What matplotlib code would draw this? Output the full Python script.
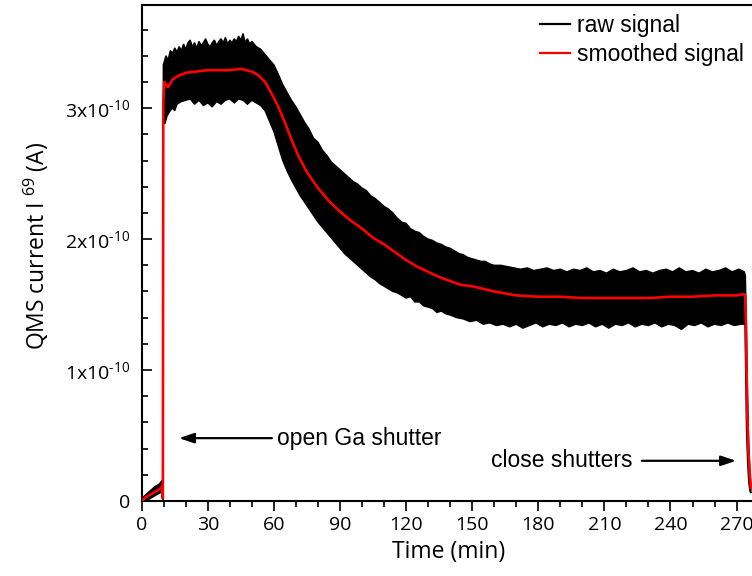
import matplotlib
matplotlib.use('Agg')
import matplotlib.pyplot as plt
from matplotlib.lines import Line2D
from matplotlib.ticker import MultipleLocator, FuncFormatter

# ---------------- data (current in units of 1e-10 A, time in min) ----------------
smooth_t = [0.7, 2, 4, 6, 8, 9.3, 9.6, 9.8, 10.3, 11, 12, 14, 17, 20, 25, 30, 35, 40,
            45, 50, 53, 56, 59, 62, 65, 68, 71, 75, 80, 85, 90, 95, 100, 105, 110,
            115, 120, 125, 130, 135, 140, 145, 150, 155, 160, 170, 180, 190, 200,
            210, 220, 230, 240, 250, 260, 270, 273.5, 273.9, 274.3, 274.8, 275.3,
            276.0, 276.5]
smooth_v = [0.01, 0.03, 0.05, 0.07, 0.09, 0.11, 0.02, 3.05, 3.20, 3.18, 3.16, 3.22,
            3.25, 3.27, 3.28, 3.29, 3.29, 3.29, 3.30, 3.28, 3.25, 3.20, 3.11, 3.01,
            2.89, 2.76, 2.64, 2.51, 2.39, 2.29, 2.21, 2.14, 2.08, 2.01, 1.96, 1.90,
            1.84, 1.79, 1.75, 1.71, 1.68, 1.65, 1.64, 1.62, 1.60, 1.57, 1.56, 1.56,
            1.55, 1.55, 1.55, 1.55, 1.56, 1.56, 1.57, 1.57, 1.58, 1.57, 1.30, 0.70,
            0.40, 0.20, 0.10]

# raw signal: upper and lower envelope of the noisy trace
raw_upper_t = [0.7, 2, 4, 6, 8, 9.4, 9.75, 9.8, 11, 12, 13, 14, 15, 16, 17, 18, 19,
               20, 21, 22, 23, 24, 25, 26, 27, 28, 29, 30, 31, 32, 33, 34, 35, 36, 37,
               38, 39, 40, 41, 42, 43, 44, 45, 46, 47, 48, 49, 50, 52, 54, 56, 58, 60,
               62, 64, 66, 68, 70, 72, 74, 76, 78, 80, 82, 84, 86, 88, 90, 92, 94, 96,
               98, 100, 102, 104, 106, 108, 110, 112, 114, 116, 118, 120, 122, 124,
               126, 128, 130, 132, 134, 136, 138, 140, 142, 144, 146, 148, 150, 152,
               154, 156, 158, 160, 163, 166, 169, 172, 175, 178, 181, 184, 187, 190,
               193, 196, 199, 202, 205, 208, 211, 214, 217, 220, 223, 226, 229, 232,
               235, 238, 241, 244, 247, 250, 253, 256, 259, 262, 265, 268, 271, 273.5,
               274.0, 274.5, 275.0, 275.5, 276.0, 276.5]
raw_upper_v = [0.03, 0.05, 0.08, 0.11, 0.13, 0.16, 0.16, 3.33, 3.40, 3.37, 3.44, 3.42,
               3.46, 3.43, 3.47, 3.44, 3.49, 3.45, 3.50, 3.52, 3.47, 3.50, 3.46, 3.51,
               3.48, 3.50, 3.53, 3.49, 3.47, 3.50, 3.52, 3.48, 3.51, 3.53, 3.50, 3.54,
               3.49, 3.52, 3.50, 3.53, 3.51, 3.55, 3.52, 3.57, 3.50, 3.53, 3.49, 3.51,
               3.47, 3.45, 3.41, 3.37, 3.33, 3.26, 3.18, 3.12, 3.06, 3.01, 2.95, 2.89,
               2.84, 2.77, 2.74, 2.68, 2.64, 2.59, 2.56, 2.53, 2.50, 2.47, 2.44, 2.42,
               2.39, 2.37, 2.33, 2.31, 2.28, 2.25, 2.23, 2.20, 2.16, 2.13, 2.12, 2.08,
               2.06, 2.05, 2.02, 2.00, 1.99, 1.97, 1.96, 1.94, 1.93, 1.91, 1.89, 1.88,
               1.86, 1.85, 1.84, 1.83, 1.83, 1.81, 1.80, 1.80, 1.79, 1.78, 1.77, 1.78,
               1.76, 1.77, 1.78, 1.76, 1.77, 1.75, 1.77, 1.76, 1.78, 1.75, 1.76, 1.74,
               1.77, 1.75, 1.76, 1.78, 1.75, 1.76, 1.74, 1.76, 1.77, 1.75, 1.78, 1.75,
               1.76, 1.74, 1.77, 1.75, 1.76, 1.78, 1.75, 1.77, 1.75, 1.72, 1.30, 0.80,
               0.45, 0.25, 0.12]
raw_lower_t = [0.7, 2, 4, 6, 8, 9.4, 9.7, 9.8, 10.5, 11.5, 12.5, 14, 15, 16, 18, 20,
               22, 24, 26, 28, 30, 32, 34, 36, 38, 40, 42, 44, 46, 48, 50, 52, 54, 56,
               58, 60, 62, 64, 66, 68, 70, 72, 74, 76, 78, 80, 82, 84, 86, 88, 90, 92,
               94, 96, 98, 100, 102, 104, 106, 108, 110, 112, 114, 116, 118, 120, 122,
               124, 126, 128, 130, 132, 134, 136, 138, 140, 143, 146, 149, 152, 155,
               158, 161, 164, 167, 170, 173, 176, 179, 182, 185, 188, 191, 194, 197,
               200, 203, 206, 209, 212, 215, 218, 221, 224, 227, 230, 233, 236, 239,
               242, 245, 248, 251, 254, 257, 260, 263, 266, 269, 272, 273.8, 274.1,
               274.5, 275.0, 275.5, 276.0, 276.5]
raw_lower_v = [0.00, 0.00, 0.02, 0.04, 0.06, 0.07, 0.00, 2.90, 2.88, 2.94, 2.97, 3.00,
               2.98, 3.03, 3.05, 3.06, 3.07, 3.03, 3.06, 3.02, 3.04, 3.01, 3.05, 3.03,
               3.06, 3.07, 3.04, 3.07, 3.06, 3.03, 3.06, 3.04, 3.02, 2.98, 2.90, 2.82,
               2.71, 2.60, 2.52, 2.45, 2.39, 2.33, 2.28, 2.23, 2.18, 2.13, 2.09, 2.05,
               2.01, 1.97, 1.93, 1.89, 1.86, 1.83, 1.80, 1.77, 1.74, 1.71, 1.69, 1.66,
               1.64, 1.62, 1.60, 1.59, 1.57, 1.55, 1.56, 1.52, 1.52, 1.49, 1.48, 1.47,
               1.44, 1.45, 1.43, 1.42, 1.40, 1.39, 1.37, 1.38, 1.35, 1.36, 1.34, 1.35,
               1.33, 1.35, 1.32, 1.34, 1.36, 1.33, 1.35, 1.34, 1.36, 1.33, 1.35, 1.34,
               1.36, 1.33, 1.35, 1.32, 1.35, 1.34, 1.36, 1.33, 1.35, 1.34, 1.36, 1.33,
               1.35, 1.34, 1.31, 1.35, 1.34, 1.36, 1.33, 1.35, 1.34, 1.36, 1.34, 1.35,
               1.35, 1.00, 0.55, 0.30, 0.15, 0.08, 0.06]

unit = 1e-10
x_ticks = [0, 30, 60, 90, 120, 150, 180, 210, 240, 270]
y_ticks = [0, 1, 2, 3]
series_labels = ['raw signal', 'smoothed signal']
note_open = 'open Ga shutter'
note_close = 'close shutters'

# ---------------- style ----------------
plt.rcParams['font.family'] = ['Open Sans', 'DejaVu Sans']
plt.rcParams['mathtext.fontset'] = 'custom'
plt.rcParams['mathtext.rm'] = 'Open Sans'
plt.rcParams['mathtext.it'] = 'Open Sans:italic'
plt.rcParams['mathtext.bf'] = 'Open Sans:bold'
plt.rcParams['mathtext.default'] = 'regular'

W, H = 752, 576
fig = plt.figure(figsize=(W / 100, H / 100), dpi=100)
ax_left, ax_bottom_px, ax_top_px = 141.7, 501, 4.7
ax = fig.add_axes([ax_left / W, (H - ax_bottom_px) / H,
                   1 - ax_left / W, (ax_bottom_px - ax_top_px) / H])

# raw band as polygon (upper forward, lower backward)
poly_x = raw_upper_t + raw_lower_t[::-1]
poly_y = [v * unit for v in raw_upper_v] + [v * unit for v in raw_lower_v[::-1]]
ax.fill(poly_x, poly_y, facecolor='black', edgecolor='black', linewidth=1.0, zorder=2)
ax.plot(smooth_t, [v * unit for v in smooth_v], color='#ff0000', lw=1.9, zorder=3)

ax.set_xlim(0, 277)
ax.set_ylim(0, 3.79 * unit)
ax.spines['right'].set_visible(False)
for s in ('left', 'bottom', 'top'):
    ax.spines[s].set_linewidth(1.5)

ax.set_xticks(x_ticks)
ax.xaxis.set_minor_locator(MultipleLocator(10))
ax.set_yticks([v * unit for v in y_ticks])
ax.yaxis.set_minor_locator(MultipleLocator(0.2 * unit))


def yfmt(val, pos):
    n = int(round(val / unit))
    if n == 0:
        return '0'
    return f'{n}x10$^{{\\text{{-10}}}}$'


ax.yaxis.set_major_formatter(FuncFormatter(yfmt))
ax.tick_params(axis='x', which='major', direction='out', length=7.5, width=1.2,
               labelsize=14, pad=3)
ax.tick_params(axis='x', which='minor', direction='out', length=4.2, width=1.2)
ax.tick_params(axis='y', which='major', direction='in', length=7.5, width=1.2,
               labelsize=14, pad=8.5)
ax.tick_params(axis='y', which='minor', direction='in', length=4.2, width=1.2)
ax.tick_params(top=False, right=False, which='both')

ax.set_xlabel('Time (min)', fontsize=16.5)
ax.xaxis.set_label_coords((449 - ax_left) / (W - ax_left), -(552 - ax_bottom_px) / (ax_bottom_px - ax_top_px))
ax.xaxis.label.set_va('center')
ax.set_ylabel('QMS current I $^{69}$ (A)', fontsize=16.5)
ax.yaxis.set_label_coords(-(ax_left - 36) / (W - ax_left), (ax_bottom_px - 246) / (ax_bottom_px - ax_top_px))
ax.yaxis.label.set_va('center')

# legend
handles = [Line2D([], [], color='black', lw=1.6), Line2D([], [], color='#ff0000', lw=1.6)]
ax.legend(handles, series_labels, loc='upper left',
          bbox_to_anchor=(540 / W, 1 - 14 / H), bbox_transform=fig.transFigure,
          frameon=False, borderpad=0, borderaxespad=0, handlelength=1.31,
          handletextpad=0.3, labelspacing=0.26,
          prop={'family': 'Liberation Sans', 'size': 16.5})

# annotations
arrow_kw = dict(arrowstyle='-|>,head_length=0.9,head_width=0.3', color='black', lw=1.6,
                shrinkA=0, shrinkB=0)
ax.annotate('', xy=(16.9, 0.48 * unit), xytext=(59.1, 0.48 * unit), arrowprops=arrow_kw)
ax.text(61.4, 0.48 * unit, note_open, ha='left', va='center', fontsize=16.5,
        family='Liberation Sans')
ax.annotate('', xy=(269.8, 0.307 * unit), xytext=(227.0, 0.307 * unit), arrowprops=arrow_kw)
ax.text(222.6, 0.307 * unit, note_close, ha='right', va='center', fontsize=16.5,
        family='Liberation Sans')

fig.savefig('out.png', dpi=100)
